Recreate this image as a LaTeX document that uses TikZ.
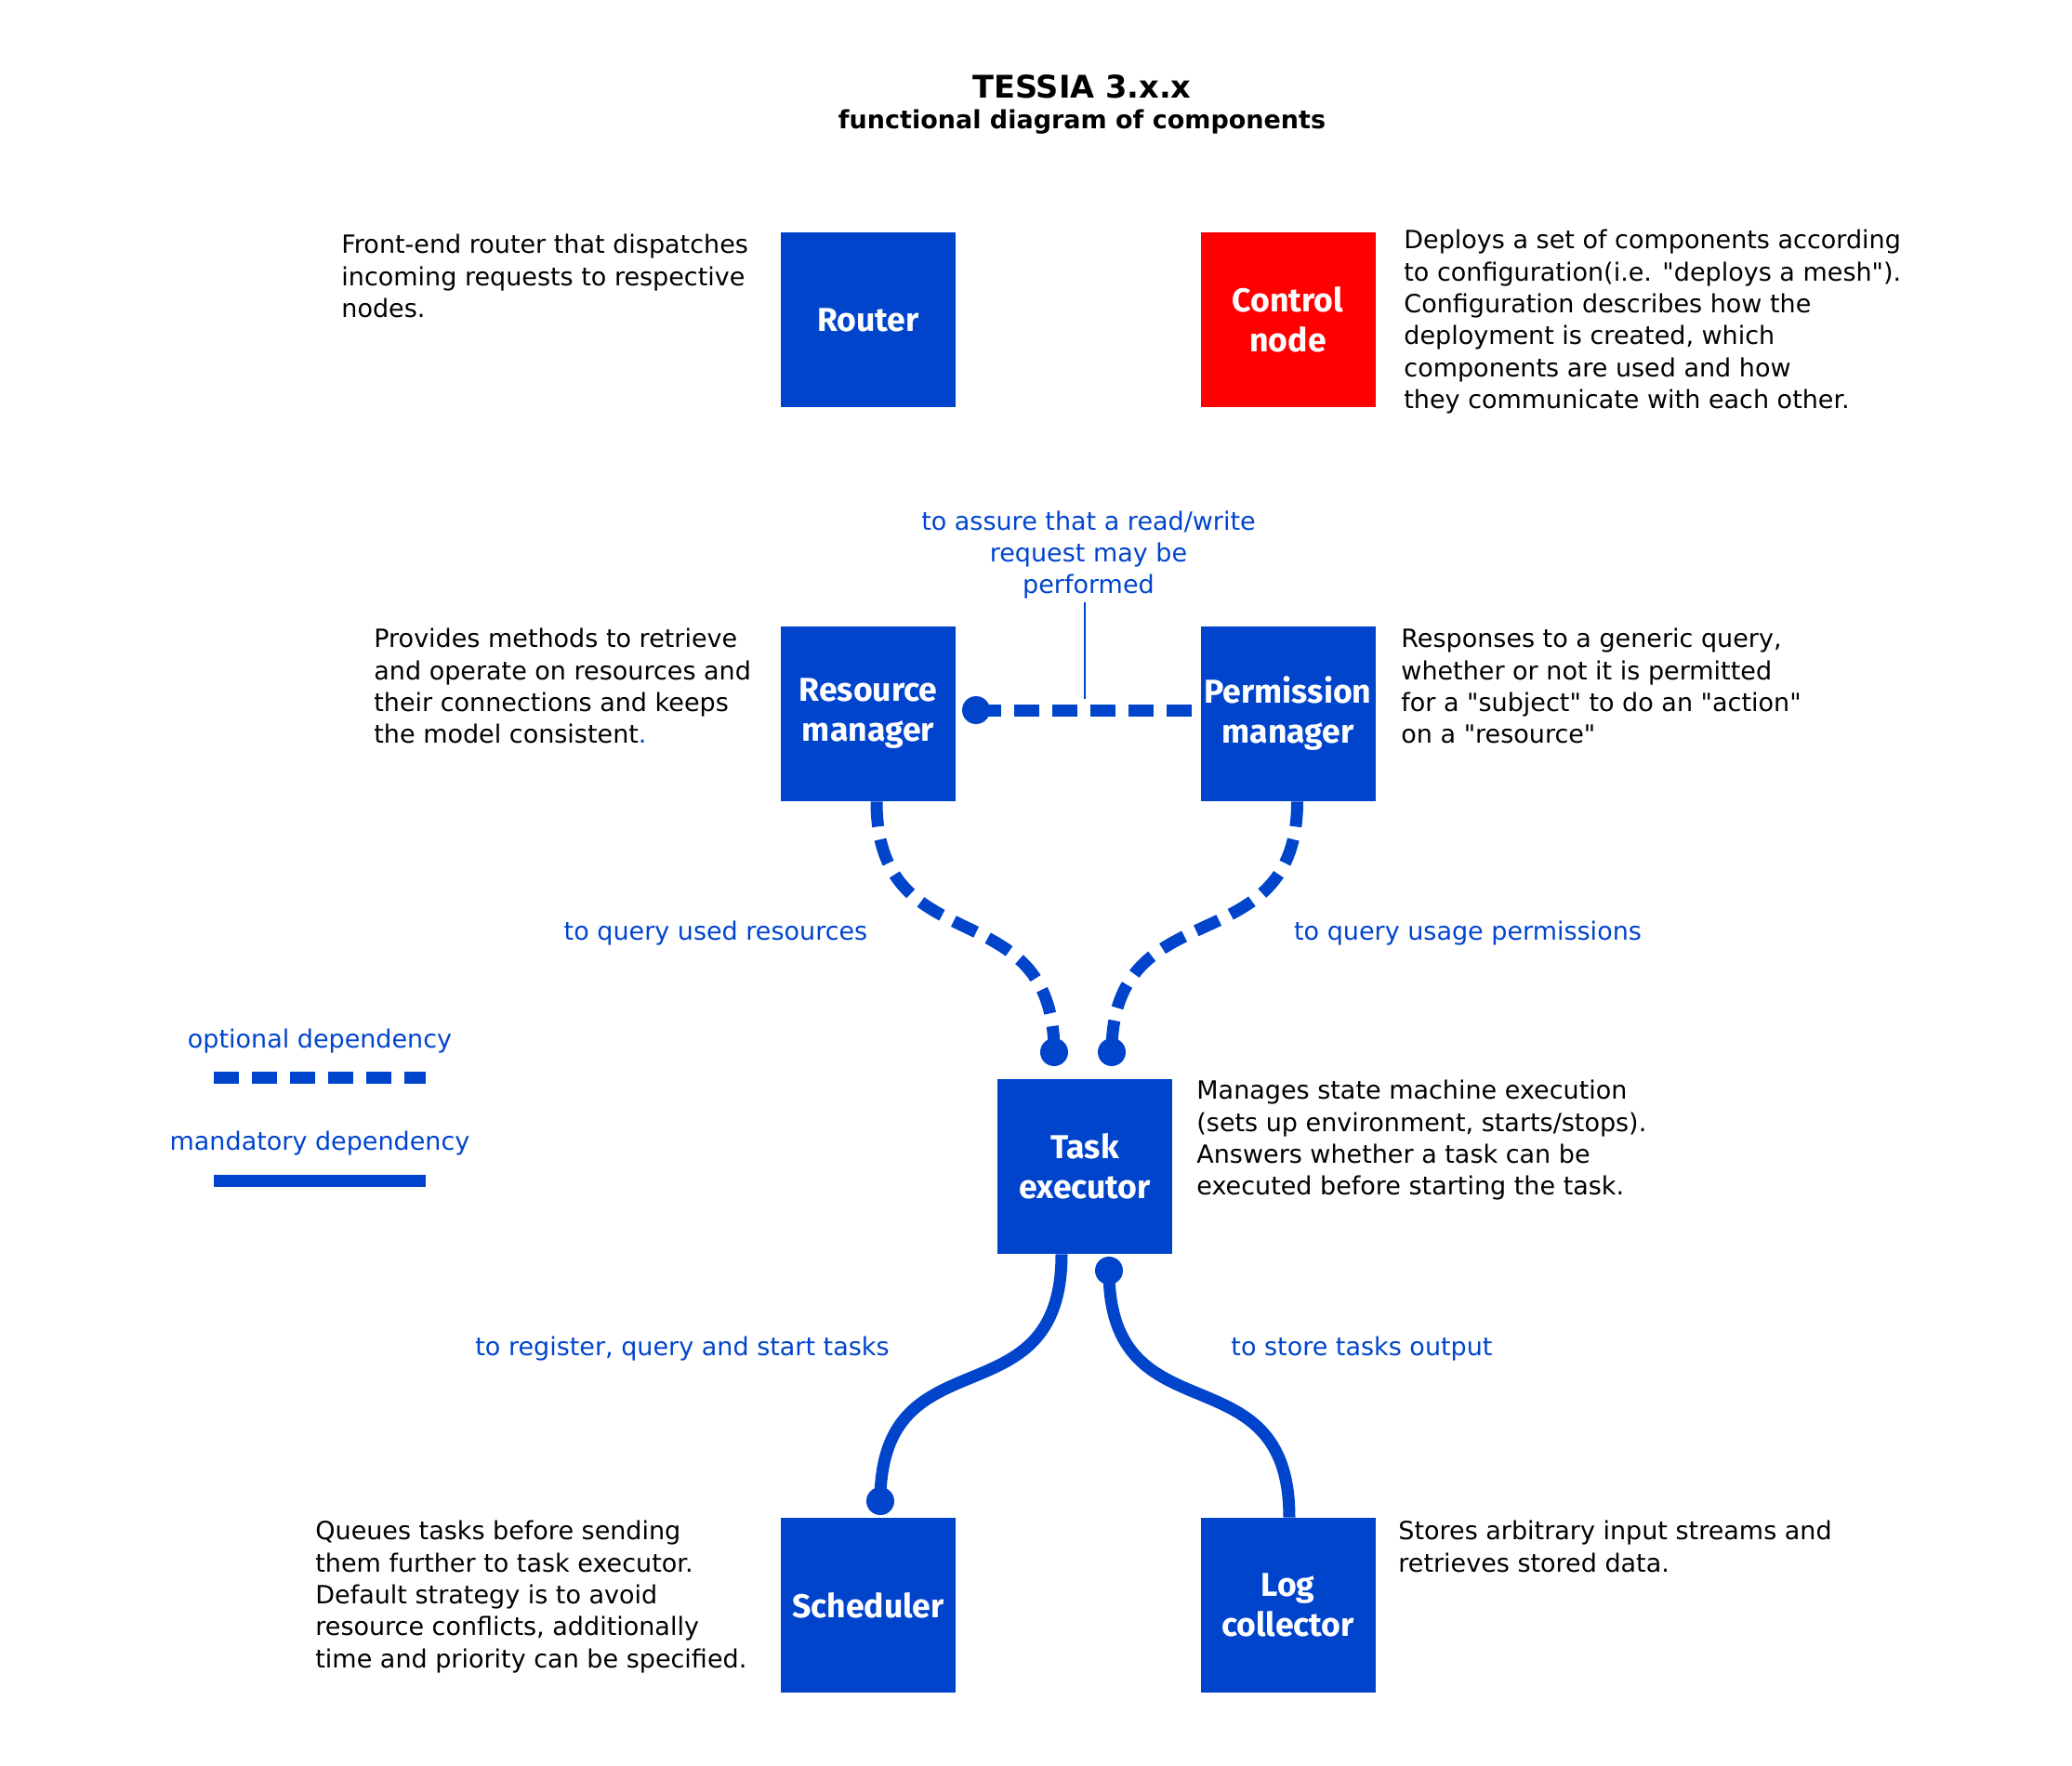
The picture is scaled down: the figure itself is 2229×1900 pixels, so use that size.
\documentclass[tikz,border=0pt]{standalone}
\usepackage{fontspec}
\setmainfont{DejaVu Sans}[Ligatures=TeXOff]
\newfontfamily\boxfont{Fira Sans}
\usetikzlibrary{calc}
\definecolor{tblue}{RGB}{0,68,204}
\definecolor{tred}{RGB}{255,0,0}
\tikzset{
 comp/.style={rectangle, draw=none, minimum width=94pt, minimum height=94pt, inner sep=0pt, text=white, align=center, font=\boxfont\bfseries\fontsize{17.8}{21.5}\selectfont},
 bluecomp/.style={comp, fill=tblue},
 redcomp/.style={comp, fill=tred},
 desc/.style={anchor=north west, inner sep=0pt, align=left, font=\fontsize{13.5}{17.15}\selectfont},
 lbl/.style={inner sep=0pt, align=center, text=tblue, font=\fontsize{13.5}{17.15}\selectfont},
 optline/.style={draw=tblue, line width=6.5pt, dash pattern=on 13.5pt off 7pt},
 manline/.style={draw=tblue, line width=6.5pt},
 thinline/.style={draw=tblue, line width=1pt},
 dotnode/.style={circle, fill=tblue, minimum size=15pt, inner sep=0pt},
}
\begin{document}
\begin{tikzpicture}[x=0.5pt,y=-0.5pt]
\useasboundingbox (0,0) rectangle (2229,1900);

% title
\node[font=\bfseries\fontsize{16.8}{20}\selectfont] (title) at (1164,93) {TESSIA 3.x.x};
\node[font=\bfseries\fontsize{13.5}{17}\selectfont] (subtitle) at (1164,131) {functional diagram of components};

% components
\node[bluecomp] (router) at (934,344) {Router};
\node[redcomp] (control) at (1385.5,344) {Control\\node};
\node[bluecomp] (res) at (934,768) {Resource\\manager};
\node[bluecomp] (perm) at (1385.5,768) {Permission\\manager};
\node[bluecomp] (task) at (1167,1255) {Task\\executor};
\node[bluecomp] (sched) at (934,1727) {Scheduler};
\node[bluecomp] (logc) at (1385.5,1727) {Log\\collector};

% descriptions
\node[desc] (drouter) at (367,252) {Front-end router that dispatches\\incoming requests to respective\\nodes.};
\node[desc] (dcontrol) at (1510,247) {Deploys a set of components according\\to configuration(i.e. "deploys a mesh").\\Configuration describes how the\\deployment is created, which\\components are used and how\\they communicate with each other.};
\node[desc] (dres) at (402,676) {Provides methods to retrieve\\and operate on resources and\\their connections and keeps\\the model consistent\textcolor{tblue}{.}};
\node[desc] (dperm) at (1507,676) {Responses to a generic query,\\whether or not it is permitted\\for a "subject" to do an "action"\\on a "resource"};
\node[desc] (dtask) at (1287,1162) {Manages state machine execution\\(sets up environment, starts/stops).\\Answers whether a task can be\\executed before starting the task.};
\node[desc] (dsched) at (339,1636) {Queues tasks before sending\\them further to task executor.\\Default strategy is to avoid\\resource conflicts, additionally\\time and priority can be specified.};
\node[desc] (dlog) at (1504,1636) {Stores arbitrary input streams and\\retrieves stored data.};

% dots
\node[dotnode] (dotrp) at (1050,764) {};
\node[dotnode] (dotta) at (1134,1132) {};
\node[dotnode] (dottb) at (1196,1132) {};
\node[dotnode] (dotsc) at (947,1615) {};
\node[dotnode] (dottl) at (1193,1367) {};

% connectors
\draw[optline] (dotrp.center) -- (perm.west |- dotrp.center);
\draw[optline] ($(res.south)+(9,0)$) .. controls +(0,178) and +(0,-178) .. (dotta.center);
\draw[optline] ($(perm.south)+(10,0)$) .. controls +(0,178) and +(0,-178) .. (dottb.center);
\draw[manline] ($(task.south)+(-25,0)$) .. controls +(0,185) and +(0,-185) .. (dotsc.center);
\draw[manline] ($(logc.north)+(1.5,0)$) .. controls +(0,-185) and +(0,185) .. (dottl.center);

% labels
\node[lbl] (lassure) at (1171,597) {to assure that a read/write\\request may be\\performed};
\coordinate (assA) at (1167,648);
\coordinate (assB) at (1167,752);
\draw[thinline] (assA) -- (assB);
\node[lbl] (lres) at (770,1004) {to query used resources};
\node[lbl] (lperm) at (1579,1004) {to query usage permissions};
\node[lbl] (lsched) at (734,1451) {to register, query and start tasks};
\node[lbl] (llog) at (1465,1451) {to store tasks output};

% legend
\node[lbl] (lopt) at (344,1120) {optional dependency};
\coordinate (optA) at (230,1159);
\coordinate (optB) at (458,1159);
\draw[optline] (optA) -- (optB);
\node[lbl] (lman) at (344,1230) {mandatory dependency};
\coordinate (manA) at (230,1270.5);
\coordinate (manB) at (458,1270.5);
\draw[manline] (manA) -- (manB);
\end{tikzpicture}
\end{document}
